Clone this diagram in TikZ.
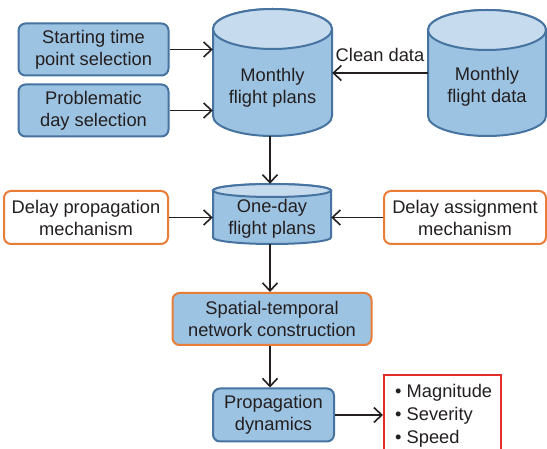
\documentclass[tikz,border=0pt]{standalone}
\usepackage{fontspec}
\setmainfont{Liberation Sans}
\usetikzlibrary{arrows.meta}
\definecolor{bfill}{RGB}{157,195,226}
\definecolor{bline}{RGB}{70,115,160}
\definecolor{btop}{RGB}{198,219,238}
\definecolor{oline}{RGB}{232,125,55}
\definecolor{rline}{RGB}{226,45,40}
\definecolor{ink}{RGB}{35,31,32}
\tikzset{
  bluebox/.style={draw=bline, fill=bfill, line width=2pt, rounded corners=7pt, inner sep=0pt},
  orangebox/.style={draw=oline, fill=white, line width=2pt, rounded corners=7pt, inner sep=0pt},
  mixbox/.style={draw=oline, fill=bfill, line width=2pt, rounded corners=7pt, inner sep=0pt},
  anchorbox/.style={inner sep=0pt, draw=none},
  txt/.style={align=center, text=ink, inner sep=0pt, font=\fontsize{18.3}{22}\selectfont},
  cylbody/.style={draw=bline, fill=bfill, line width=2pt},
  cyltop/.style={draw=bline, fill=btop, line width=2pt},
  arr/.style={draw=ink, line width=1.6pt, -{Straight Barb[length=8pt,width=15pt,line width=1.6pt]}},
}
\newcommand\mycyl[5]{%
  \pgfmathsetmacro\mycx{(#1+#2)/2}%
  \pgfmathsetmacro\myrx{(#2-#1)/2}%
  \pgfmathsetmacro\myya{#3+#5}%
  \pgfmathsetmacro\myyb{#4-#5}%
  \filldraw[cylbody] (#1,\myya) -- (#1,\myyb) arc[start angle=180,end angle=0,x radius=\myrx,y radius=#5] -- (#2,\myya) arc[start angle=0,end angle=-180,x radius=\myrx,y radius=#5] -- cycle;
  \filldraw[cyltop] (\mycx,\myya) ellipse[x radius=\myrx,y radius=#5];
}
\begin{document}
\begin{tikzpicture}[x=1pt,y=-1pt]
\useasboundingbox (0,0) rectangle (547,449);
\fill[white] (0,0) rectangle (547,449);
% cylinders
\mycyl{213}{332}{9}{136}{20}
\mycyl{428}{546}{10}{136}{20}
\mycyl{213}{331}{184}{244}{6.5}
\node[anchorbox, minimum width=119pt, minimum height=127pt] (mfp) at (272.5,72.5) {};
\node[anchorbox, minimum width=118pt, minimum height=126pt] (mfd) at (487,73) {};
\node[anchorbox, minimum width=118pt, minimum height=60pt] (od) at (272,214) {};
\node[txt] (mfpt) at (272.5,88) {Monthly\\flight plans};
\node[txt] (mfdt) at (487,87) {Monthly\\flight data};
\node[txt] (odt) at (272,219) {One-day\\flight plans};
% boxes
\node[bluebox, minimum width=150pt, minimum height=52pt] (st) at (93.5,49.5) {};
\node[txt] at (st) {Starting time\\point selection};
\node[bluebox, minimum width=150pt, minimum height=52pt] (pd) at (93.5,110.5) {};
\node[txt] at (pd) {Problematic\\day selection};
\node[orangebox, minimum width=164pt, minimum height=53pt] (dp) at (86,217.5) {};
\node[txt] at (dp) {Delay propagation\\mechanism};
\node[orangebox, minimum width=162pt, minimum height=53pt] (da) at (465,217.5) {};
\node[txt] at (da) {Delay assignment\\mechanism};
\node[mixbox, minimum width=199pt, minimum height=52pt] (stn) at (272,319) {};
\node[txt] at (stn) {Spatial-temporal\\network construction};
\node[bluebox, minimum width=121pt, minimum height=53pt] (pdy) at (273.5,415) {};
\node[txt] at (pdy) {Propagation\\dynamics};
\node[draw=rline, line width=2pt, minimum width=117pt, minimum height=95pt, inner sep=0pt] (res) at (442.5,422.5) {};
\node[txt, align=left, anchor=north west, font=\fontsize{18.3}{23}\selectfont] (rest) at (395,384) {\textbullet\ Magnitude\\\textbullet\ Severity\\\textbullet\ Speed};
% connectors
\draw[arr] (st.east) -- (st.east -| mfp.west);
\draw[arr] (pd.east) -- (pd.east -| mfp.west);
\draw[arr] (mfd.west) -- node[txt, above=11pt] (cl) {Clean data} (mfd.west -| mfp.east);
\draw[arr] (mfp.south -| 270,0) -- (od.north -| 270,0);
\draw[arr] (dp.east) -- (dp.east -| od.west);
\draw[arr] (da.west) -- (da.west -| od.east);
\draw[arr] (od.south -| 270,0) -- (stn.north -| 270,0);
\draw[arr] (stn.south -| 270,0) -- (pdy.north -| 270,0);
\draw[arr] (pdy.east) -- (pdy.east -| res.west);
\end{tikzpicture}
\end{document}
